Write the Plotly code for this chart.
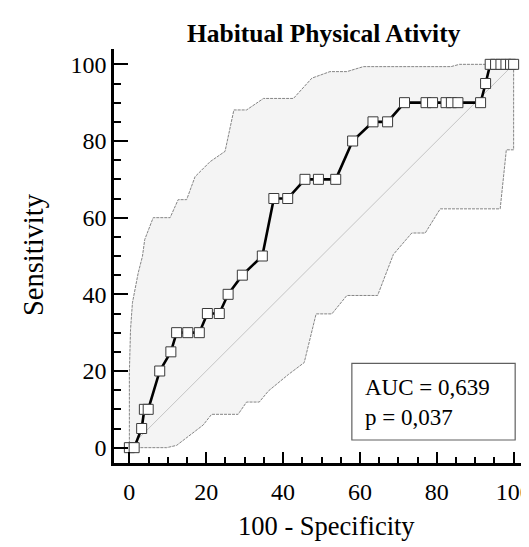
import plotly.graph_objects as go

# ROC curve points: 100 - Specificity (x) and Sensitivity (y)
roc_fpr = [0, 1.25, 3.2, 3.9, 4.9, 7.9, 10.8, 12.3, 15.2, 18.2, 20.3, 23.4, 25.7, 29.4, 34.6,
           37.6, 41.2, 45.7, 49.2, 53.7, 58.1, 63.4, 67.2, 71.6, 77.2, 78.9, 82.4, 83.8, 85.5,
           91.4, 92.7, 93.9, 95.3, 96.7, 98.0, 99.2, 100]
roc_tpr = [0, 0, 5, 10, 10, 20, 25, 30, 30, 30, 35, 35, 40, 45, 50,
           65, 65, 70, 70, 70, 80, 85, 85, 90, 90, 90, 90, 90, 90,
           90, 95, 100, 100, 100, 100, 100, 100]

# Upper confidence bound (stepwise)
upper_x = [0, 0, 0.3, 0.8, 2.3, 3.4, 4.0, 6.2, 10.6, 12.7, 14.9, 17.1, 21.0, 24.9, 27.2,
           30.5, 34.9, 42.7, 47.5, 52.2, 56.6, 60.9, 83.7, 85.9, 100]
upper_y = [0, 19.6, 30.8, 37.8, 45.6, 49.9, 54.3, 60, 60, 64.7, 64.7, 70.7, 74.6, 77.3, 88.1,
           88.1, 91.1, 91.1, 96.4, 98.1, 98.1, 99.4, 99.4, 100, 100]

# Lower confidence bound (stepwise), from top-right to origin
lower_x = [100, 100, 98.1, 97.2, 96.5, 80.9, 77.0, 73.5, 68.7, 64.6, 56.6, 52.7, 48.6, 45.5,
           41.4, 36.2, 33.8, 30.5, 28.3, 21.4, 19.2, 12.3, 9.7, 0]
lower_y = [100, 77.7, 77.7, 69.4, 62.3, 62.3, 56, 56, 50.4, 39.7, 39.7, 34.9, 34.9, 22.2,
           19.1, 14.8, 11.9, 11.9, 8.7, 8.7, 5.9, 0.6, 0, 0]

# Reference diagonal
diag_x = [0, 100]
diag_y = [0, 100]

x_ticks = [0, 20, 40, 60, 80, 100]
y_ticks = [0, 20, 40, 60, 80, 100]

title_text = "<b>Habitual Physical Ativity</b>"
x_title = "100 - Specificity"
y_title = "Sensitivity"
auc_text = "AUC = 0,639"
p_text = "p = 0,037"

FONT = "Liberation Serif, Times New Roman, serif"

fig = go.Figure()

# Confidence band
fig.add_trace(go.Scatter(
    x=upper_x + lower_x, y=upper_y + lower_y,
    mode="lines", fill="toself", fillcolor="#f4f4f4",
    line=dict(color="#858585", width=1, dash="3px,1px"),
    hoverinfo="skip", showlegend=False))

# Diagonal
fig.add_trace(go.Scatter(
    x=diag_x, y=diag_y, mode="lines",
    line=dict(color="#c4c4c4", width=1),
    hoverinfo="skip", showlegend=False))

# ROC curve
fig.add_trace(go.Scatter(
    x=roc_fpr, y=roc_tpr, mode="lines+markers",
    line=dict(color="black", width=2.6),
    marker=dict(symbol="square", size=10, color="white",
                line=dict(color="#3a3a3a", width=1)),
    showlegend=False))

# The page body has an 8px default margin; the figure is sized to fill the rest.
OFF = 8
W, H = 529 - OFF, 547 - OFF
ML, MR, MT, MB = 114 - OFF, 0, 49 - OFF, 84
PW = W - ML - MR
PH = H - MT - MB


def px_x(p):
    return (p - OFF - ML) / PW


def px_y(p):
    return 1 - (p - OFF - MT) / PH


axis_common = dict(
    showline=True, linecolor="black", linewidth=2.5,
    showgrid=False, zeroline=False, mirror=False,
    ticks="inside", tickwidth=2, tickcolor="black",
    tickfont=dict(family=FONT, size=24, color="black"),
    automargin=False, ticklabeloverflow="allow",
)

fig.update_layout(
    width=W, height=H,
    margin=dict(l=ML, r=MR, t=MT, b=MB, pad=0),
    paper_bgcolor="white", plot_bgcolor="white",
    showlegend=False,
    xaxis=dict(range=[-4, 104], tickvals=x_ticks, ticklen=11, ticklabelstandoff=5,
               minor=dict(dtick=5, tick0=0, ticks="inside", ticklen=6,
                          tickwidth=1.5, tickcolor="black", showgrid=False),
               **axis_common),
    yaxis=dict(range=[-4, 104], tickvals=y_ticks, ticklen=14, ticklabelstandoff=0,
               minor=dict(dtick=5, tick0=0, ticks="inside", ticklen=7,
                          tickwidth=1.5, tickcolor="black", showgrid=False),
               **axis_common),
    shapes=[dict(type="rect", xref="x", yref="y", x0=57.9, x1=100.4, y0=2, y1=22,
                 line=dict(color="#606060", width=1.2), fillcolor="white", layer="above")],
    annotations=[
        dict(text=title_text, xref="paper", yref="paper", x=px_x(324), y=px_y(33),
             xanchor="center", yanchor="middle",
             showarrow=False, font=dict(family=FONT, size=25.5, color="black")),
        dict(text=x_title, xref="paper", yref="paper", x=px_x(326.5), y=px_y(526),
             xanchor="center", yanchor="middle",
             showarrow=False, font=dict(family=FONT, size=26.5, color="black")),
        dict(text=y_title, xref="paper", yref="paper", x=px_x(33), y=px_y(255),
             xanchor="center", yanchor="middle",
             textangle=-90, showarrow=False, font=dict(family=FONT, size=28.5, color="black")),
        dict(text=auc_text, xref="x", yref="y", x=60.8, y=15.7, xanchor="left", yanchor="middle",
             showarrow=False, font=dict(family=FONT, size=23, color="black")),
        dict(text=p_text, xref="x", yref="y", x=60.8, y=7.9, xanchor="left", yanchor="middle",
             showarrow=False, font=dict(family=FONT, size=23, color="black")),
    ],
)

fig.write_html("out.html", config={"displayModeBar": False})
